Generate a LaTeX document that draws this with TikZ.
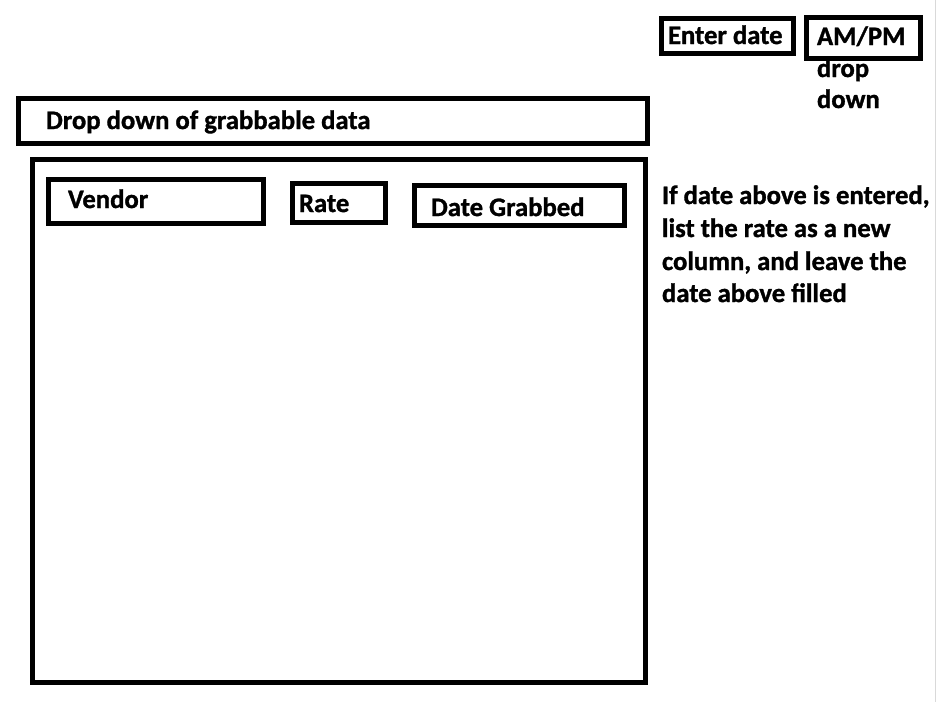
\documentclass[tikz,border=0pt]{standalone}
\usepackage{fontspec}
\setmainfont{Carlito}
\newfontfamily\heavyfont{Carlito Bold}[FakeBold=1.2]
\begin{document}
\begin{tikzpicture}[x=1pt,y=-1pt,
  box/.style={draw=black,line width=5pt,inner sep=0pt,outer sep=0pt,anchor=north west},
  lbl/.style={anchor=base west,inner sep=0pt,outer sep=0pt,font=\fontsize{26.67}{32.5}\selectfont\heavyfont}]
\useasboundingbox (0,0) rectangle (936,702);
\fill[white] (0,0) rectangle (936,702);
\draw[black!15, line width=1pt] (935,0) -- (935,702);
% boxes
\node[box,minimum width=132pt,minimum height=35pt] (enterbox) at (661.5,18.5) {};
\node[box,minimum width=114pt,minimum height=41pt] (ampmbox) at (806.5,17.5) {};
\node[box,minimum width=629pt,minimum height=45pt] (dropbox) at (18.5,98.5) {};
\node[box,minimum width=613pt,minimum height=523pt] (mainbox) at (32.5,159.5) {};
\node[box,minimum width=215pt,minimum height=44pt] (vendorbox) at (48.5,179.5) {};
\node[box,minimum width=93pt,minimum height=39pt] (ratebox) at (292.5,183.5) {};
\node[box,minimum width=210pt,minimum height=40pt] (datebox) at (414.5,185.5) {};
% labels
\node[lbl] (entert) at (668,44) {Enter date};
\node[lbl] (ampmt) at (817,45) {AM/PM};
\node[lbl] (dropt) at (817,77) {drop};
\node[lbl] (downt) at (817,108) {down};
\node[lbl] (ddt) at (46,129) {Drop down of grabbable data};
\node[lbl] (vendort) at (68,208) {Vendor};
\node[lbl] (ratet) at (299,212) {Rate};
\node[lbl] (dategt) at (431,216) {Date Grabbed};
\node[lbl] (n1) at (662,204) {If date above is entered,};
\node[lbl] (n2) at (662,237) {list the rate as a new};
\node[lbl] (n3) at (662,270) {column, and leave the};
\node[lbl] (n4) at (662,302) {date above filled};
\end{tikzpicture}
\end{document}
